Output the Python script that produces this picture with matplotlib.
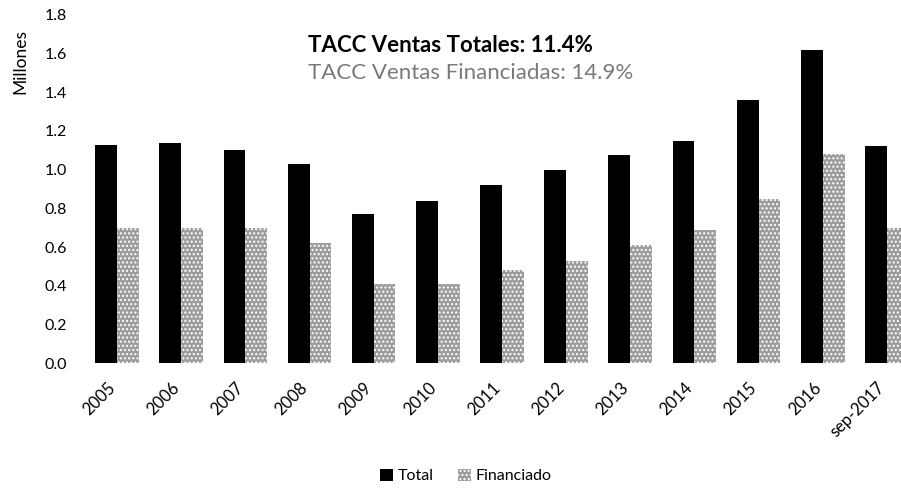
import matplotlib
matplotlib.use("Agg")
import matplotlib.pyplot as plt
import matplotlib.transforms as mtransforms
import numpy as np
from matplotlib.patches import Patch

categories = ["2005", "2006", "2007", "2008", "2009", "2010", "2011", "2012",
              "2013", "2014", "2015", "2016", "sep-2017"]
total = [1.13, 1.14, 1.10, 1.03, 0.77, 0.84, 0.92, 1.00, 1.075, 1.15, 1.36, 1.62, 1.12]
financiado = [0.70, 0.70, 0.70, 0.62, 0.41, 0.41, 0.48, 0.53, 0.61, 0.69, 0.85, 1.08, 0.70]
yticks = [0.0, 0.2, 0.4, 0.6, 0.8, 1.0, 1.2, 1.4, 1.6, 1.8]

plt.rcParams['font.family'] = ['Lato', 'DejaVu Sans']
plt.rcParams['hatch.linewidth'] = 1.0

W, H = 901, 490
fig = plt.figure(figsize=(W / 100, H / 100), dpi=100)
left, right = 85, 901
bottom, top = 363, 15
ax = fig.add_axes([left / W, 1 - bottom / H, (right - left) / W, (bottom - top) / H])

x = np.arange(len(categories))
bw = 0.34
ax.bar(x - bw / 2, total, width=bw, color="black", linewidth=0, label="Total")
ax.bar(x + bw / 2, financiado, width=bw, facecolor="#9c9c9c", edgecolor="white",
       hatch="....", linewidth=0, label="Financiado")

ax.set_ylim(0, 1.8)
ax.set_xlim(-0.5, 12.22)
ax.set_yticks(yticks)
ax.set_yticklabels([f"{v:.1f}" for v in yticks], fontsize=11.5)
ax.set_xticks(x)
ax.set_xticklabels(categories, rotation=45, ha="right", rotation_mode="anchor", fontsize=12)
ax.tick_params(axis="both", length=0)
ax.tick_params(axis="y", pad=13)
ax.tick_params(axis="x", pad=12)
offset = mtransforms.ScaledTranslation(-10 / 100, 0, fig.dpi_scale_trans)
for lbl in ax.get_xticklabels():
    lbl.set_transform(lbl.get_transform() + offset)
for s in ax.spines.values():
    s.set_visible(False)

fig.text(20 / W, 1 - 61 / H, "Millones", rotation=90, ha="center", va="center", fontsize=12.5)
fig.text(308 / W, 1 - 46 / H, "TACC Ventas Totales: 11.4%", fontsize=16,
         fontweight="bold", ha="left", va="center")
fig.text(308 / W, 1 - 73 / H, "TACC Ventas Financiadas: 14.9%", fontsize=16,
         color="#7a7a7a", ha="left", va="center")

handles = [Patch(facecolor="black", linewidth=0),
           Patch(facecolor="#9c9c9c", edgecolor="white", hatch="....", linewidth=0)]
fig.legend(handles, ["Total", "Financiado"], loc="center",
           bbox_to_anchor=(466 / W, 1 - 476 / H), ncol=2, frameon=False,
           fontsize=11.5, handlelength=0.8, handleheight=0.8, handletextpad=0.3,
           columnspacing=1.5)

fig.savefig("out.png", dpi=100)
